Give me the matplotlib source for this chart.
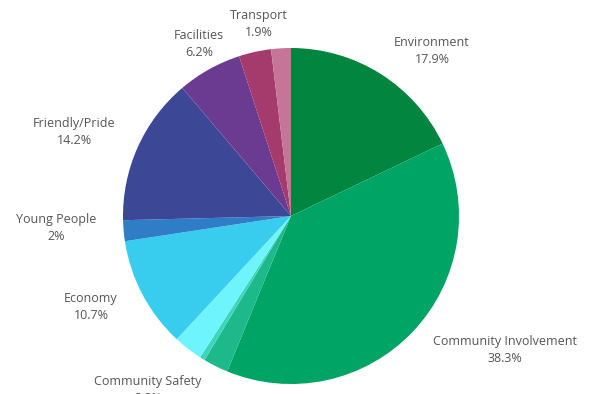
import matplotlib
matplotlib.use("Agg")
import matplotlib.pyplot as plt

# ── Datos ─────────────────────────────────────────────────────────────────────
categorias = [
    "Environment", "Community Involvement", "", "", "Community Safety",
    "Economy", "Young People", "Friendly/Pride", "Facilities", "", "Transport",
]
porcentajes = [17.9, 38.3, 2.4, 0.5, 2.8, 10.7, 2.0, 14.2, 6.2, 3.1, 1.9]
etiquetas_pct = ["17.9%", "38.3%", "", "", "2.8%", "10.7%", "2%", "14.2%", "6.2%", "", "1.9%"]
colores = [
    "#01853f", "#00a465", "#1db98a", "#3dd6bd", "#6ef4fc",
    "#38cdee", "#2f7dc6", "#3c4796", "#6b3b91", "#a53a6c", "#c57597",
]

# posiciones de las etiquetas (px, origen arriba a la izquierda)
pos_etiquetas = {
    "Environment": (432, 51),
    "Community Involvement": (505, 350),
    "Community Safety": (148, 390),
    "Economy": (91, 307),
    "Young People": (56, 228),
    "Friendly/Pride": (74, 132),
    "Facilities": (199, 44),
    "Transport": (259, 24),
}

W, H = 590, 394

fig = plt.figure(figsize=(W / 100, H / 100), dpi=100)
ax = fig.add_axes([0, 0, 1, 1])
ax.set_xlim(0, W)
ax.set_ylim(0, H)
ax.set_aspect("equal")
ax.axis("off")

ax.pie(
    porcentajes,
    colors=colores,
    center=(291, H - 216),
    radius=168,
    startangle=90,
    counterclock=False,
    wedgeprops={"linewidth": 0},
    frame=True,
)
ax.set_xlim(0, W)
ax.set_ylim(0, H)
ax.axis("off")

for nombre, pct in zip(categorias, etiquetas_pct):
    if not nombre:
        continue
    x, y = pos_etiquetas[nombre]
    ax.text(x, H - y, f"{nombre}\n{pct}", ha="center", va="center",
            fontsize=9, color="#555555", family="Open Sans", linespacing=1.35)

fig.savefig("out.png", dpi=100)
plt.close(fig)
